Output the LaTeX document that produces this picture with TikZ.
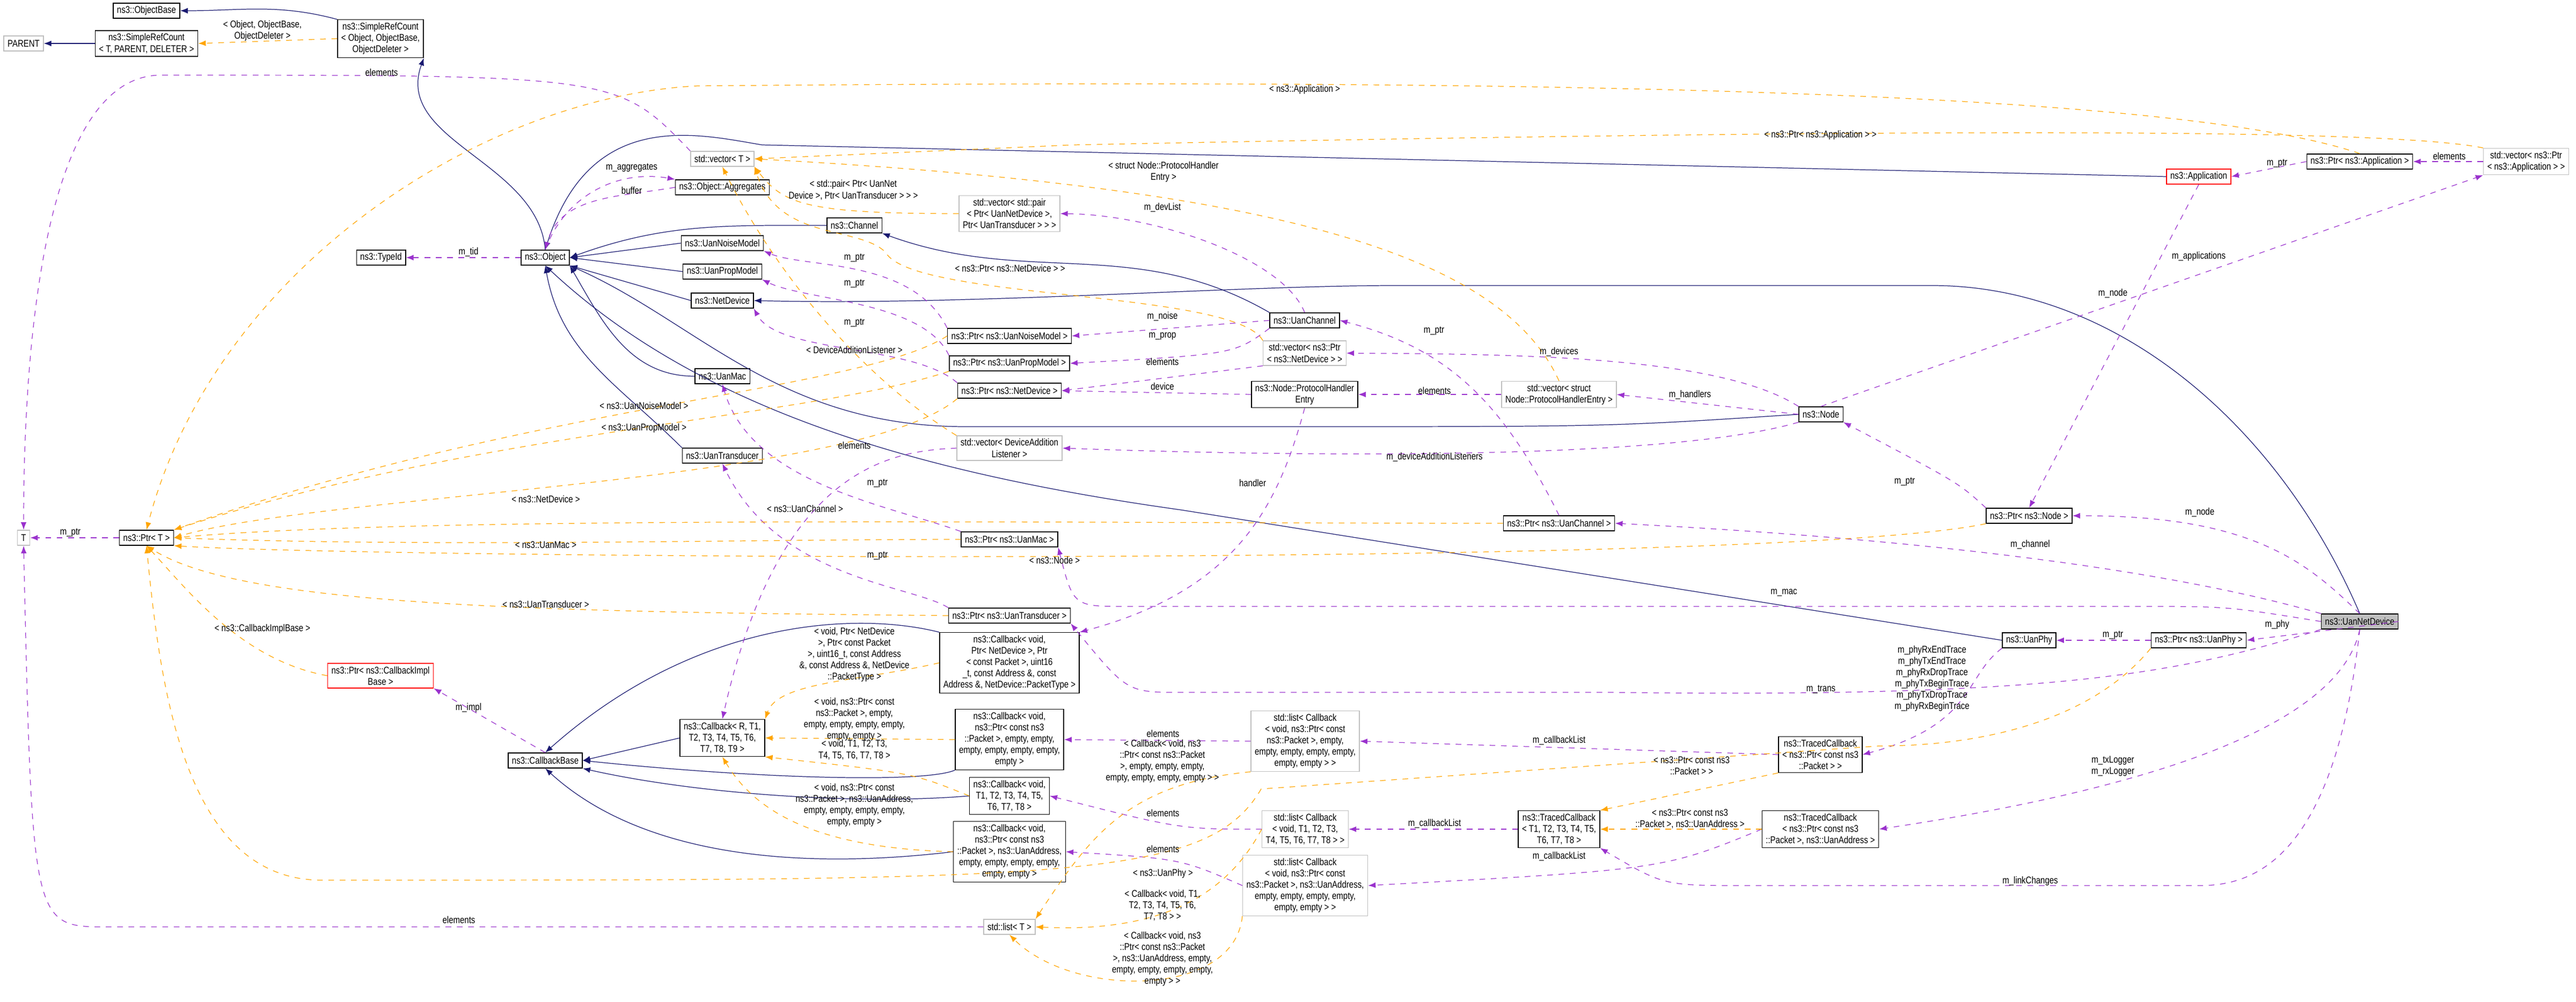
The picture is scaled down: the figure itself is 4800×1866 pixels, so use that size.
\documentclass[tikz,border=0pt]{standalone}
\usepackage{fontspec}
\setmainfont[FakeStretch=0.82]{Liberation Sans}
\usetikzlibrary{arrows.meta}
\definecolor{navy}{HTML}{191970}
\definecolor{purp}{HTML}{9A32CD}
\definecolor{orng}{HTML}{FFA500}
\definecolor{grayb}{HTML}{BFBFBF}
\newcommand{\dfont}{\fontsize{5.2}{6}\selectfont}
\tikzset{cls/.style={draw=black,fill=white,font=\dfont,align=center,inner xsep=2pt,inner ysep=1.6pt,minimum height=8pt,line width=0.4pt}}
\tikzset{ext/.style={cls,draw=grayb}}
\tikzset{redcls/.style={cls,draw=red}}
\tikzset{lbl/.style={font=\dfont,align=center,inner sep=0pt}}
\tikzset{inh/.style={draw=navy,line width=0.35pt,-{Latex[length=4pt,width=3pt]}}}
\tikzset{mem/.style={draw=purp,dashed,line width=0.35pt,-{Latex[length=4pt,width=3pt]}}}
\tikzset{tpl/.style={draw=orng,dashed,line width=0.35pt,-{Latex[length=4pt,width=3pt]}}}

\begin{document}
\begin{tikzpicture}[x=0.01cm,y=-0.01cm]
  \useasboundingbox (0,0) rectangle (4800,1866);
  % classes
  \node[cls] (pbase) at (273,20) {ns3::ObjectBase};
  \node[cls] (srcT) at (273,81) {ns3::SimpleRefCount\\< T, PARENT, DELETER >};
  \node[ext] (parent) at (44,81) {PARENT};
  \node[cls] (srcO) at (709,72) {ns3::SimpleRefCount\\< Object, ObjectBase,\\ ObjectDeleter >};
  \node[cls] (typeid) at (710,480) {ns3::TypeId};
  \node[cls] (object) at (1016,480) {ns3::Object};
  \node[ext] (vecT) at (1346,296) {std::vector< T >};
  \node[cls] (aggr) at (1346,349) {ns3::Object::Aggregates};
  \node[ext] (vecpair) at (1881,398) {std::vector< std::pair\\< Ptr< UanNetDevice >,\\ Ptr< UanTransducer > > >};
  \node[cls] (channel) at (1592,420) {ns3::Channel};
  \node[cls] (noise) at (1346,453) {ns3::UanNoiseModel};
  \node[cls] (prop) at (1346,506) {ns3::UanPropModel};
  \node[cls] (netdev) at (1346,560) {ns3::NetDevice};
  \node[cls] (uanmac) at (1346,701) {ns3::UanMac};
  \node[cls] (transd) at (1346,849) {ns3::UanTransducer};
  \node[cls] (pnoise) at (1881,626) {ns3::Ptr< ns3::UanNoiseModel >};
  \node[cls] (pprop) at (1881,677) {ns3::Ptr< ns3::UanPropModel >};
  \node[cls] (pnetdev) at (1881,728) {ns3::Ptr< ns3::NetDevice >};
  \node[ext] (vecdal) at (1881,835) {std::vector< DeviceAddition\\ Listener >};
  \node[cls] (uanchan) at (2431,597) {ns3::UanChannel};
  \node[ext] (vecpnd) at (2431,658) {std::vector< ns3::Ptr\\< ns3::NetDevice > >};
  \node[cls] (phe) at (2431,735) {ns3::Node::ProtocolHandler\\ Entry};
  \node[ext] (vecphe) at (2905,735) {std::vector< struct\\ Node::ProtocolHandlerEntry >};
  \node[cls] (node) at (3393,772) {ns3::Node};
  \node[cls] (pchan) at (2905,975) {ns3::Ptr< ns3::UanChannel >};
  \node[cls] (pnode) at (3781,961) {ns3::Ptr< ns3::Node >};
  \node[cls] (papp) at (4397,301) {ns3::Ptr< ns3::Application >};
  \node[redcls] (app) at (4097,329) {ns3::Application};
  \node[ext] (vecpapp) at (4707,301) {std::vector< ns3::Ptr\\< ns3::Application > >};
  \node[cls] (pmac) at (1881,1005) {ns3::Ptr< ns3::UanMac >};
  \node[cls] (ptrans) at (1881,1147) {ns3::Ptr< ns3::UanTransducer >};
  \node[ext] (T) at (44,1002) {T};
  \node[cls] (ptrT) at (273,1002) {ns3::Ptr< T >};
  \node[redcls] (pcbimpl) at (709,1259) {ns3::Ptr< ns3::CallbackImpl\\ Base >};
  \node[cls] (cbbase) at (1016,1417) {ns3::CallbackBase};
  \node[cls] (cbR) at (1346,1375) {ns3::Callback< R, T1,\\ T2, T3, T4, T5, T6,\\ T7, T8, T9 >};
  \node[cls] (cbnd) at (1881,1235) {ns3::Callback< void,\\ Ptr< NetDevice >, Ptr\\< const Packet >, uint16\\\_t, const Address \&, const\\ Address \&, NetDevice::PacketType >};
  \node[cls] (cbpk) at (1881,1378) {ns3::Callback< void,\\ ns3::Ptr< const ns3\\::Packet >, empty, empty,\\ empty, empty, empty, empty,\\ empty >};
  \node[cls] (cbT) at (1881,1483) {ns3::Callback< void,\\ T1, T2, T3, T4, T5,\\ T6, T7, T8 >};
  \node[cls] (cbua) at (1881,1587) {ns3::Callback< void,\\ ns3::Ptr< const ns3\\::Packet >, ns3::UanAddress,\\ empty, empty, empty, empty,\\ empty, empty >};
  \node[ext] (listT) at (1881,1727) {std::list< T >};
  \node[ext] (listpk) at (2432,1381) {std::list< Callback\\< void, ns3::Ptr< const\\ ns3::Packet >, empty,\\ empty, empty, empty, empty,\\ empty, empty > >};
  \node[ext] (listT8) at (2432,1545) {std::list< Callback\\< void, T1, T2, T3,\\ T4, T5, T6, T7, T8 > >};
  \node[ext] (listua) at (2432,1650) {std::list< Callback\\< void, ns3::Ptr< const\\ ns3::Packet >, ns3::UanAddress,\\ empty, empty, empty, empty,\\ empty, empty > >};
  \node[cls] (tcpk) at (3392,1406) {ns3::TracedCallback\\< ns3::Ptr< const ns3\\::Packet > >};
  \node[cls] (tcT) at (2905,1545) {ns3::TracedCallback\\< T1, T2, T3, T4, T5,\\ T6, T7, T8 >};
  \node[cls] (tcua) at (3392,1545) {ns3::TracedCallback\\< ns3::Ptr< const ns3\\::Packet >, ns3::UanAddress >};
  \node[cls,fill=grayb] (uannd) at (4397,1158) {ns3::UanNetDevice};
  \node[cls] (uanphy) at (3781,1193) {ns3::UanPhy};
  \node[cls] (pphy) at (4097,1193) {ns3::Ptr< ns3::UanPhy >};

  % inheritance
  \draw[inh] (srcO.north west) to[out=165,in=0] (pbase.east);
  \draw[inh] (srcT) -- (parent);
  \draw[inh] (object.north) to[out=95,in=-110] (srcO.south east);
  \draw[inh] (channel.west) to[out=180,in=20] (object.east);
  \draw[inh] (noise.west) -- (object.east);
  \draw[inh] (prop.west) -- (object.east);
  \draw[inh] (netdev.west) -- (object.south east);
  \draw[inh] (uanmac.west) to[out=180,in=-60] (object.south east);
  \draw[inh] (transd.north west) to[out=135,in=-80] (object.south);
  \draw[inh] (uanchan.north west) to[out=150,in=-20] (channel.south east);
  \draw[inh] (uannd.north) .. controls (4250,800) and (3950,532) .. (3600,532) -- (2600,532) .. controls (2300,532) and (1800,570) .. (netdev.east);
  \draw[inh] (app.west) -- (1420,270) .. controls (1300,250) and (1100,200) .. (object.north);
  \draw[inh] (node.west) .. controls (3000,795) .. (2400,795) -- (1800,795) .. controls (1450,795) and (1300,600) .. (object.south east);
  \draw[inh] (uanphy.west) -- (2200,950) .. controls (1700,880) and (1300,760) .. (object.south);
  \draw[inh] (cbR.west) -- (cbbase.east);
  \draw[inh] (cbnd.north west) .. controls (1600,1140) and (1300,1150) .. (cbbase.north);
  \draw[inh] (cbpk.south west) .. controls (1720,1460) and (1400,1450) .. (cbbase.east);
  \draw[inh] (cbT.west) .. controls (1600,1500) and (1300,1480) .. (cbbase.south east);
  \draw[inh] (cbua.west) .. controls (1500,1620) and (1200,1600) .. (cbbase.south);

  % members
  \draw[mem] (object) -- (typeid);
  \draw[mem] (object.north) to[out=70,in=170] (aggr.north west);
  \draw[mem] (aggr.west) to[out=190,in=75] (object.north);
  \draw[mem] (vecT.north west) .. controls (1150,140) .. (300,140) .. controls (70,140) and (44,700) .. (T.north);
  \draw[mem] (ptrT) -- (T);
  \draw[mem] (pnoise.north west) .. controls (1700,480) and (1500,500) .. (noise.south east);
  \draw[mem] (pprop.north west) .. controls (1720,560) and (1500,560) .. (prop.south east);
  \draw[mem] (pnetdev.north west) .. controls (1700,640) and (1450,660) .. (netdev.south east);
  \draw[mem] (pmac.north west) .. controls (1650,940) and (1400,900) .. (uanmac.south);
  \draw[mem] (ptrans.north west) .. controls (1700,1090) and (1450,1080) .. (transd.south);
  \draw[mem] (uanchan.west) -- (pnoise.east);
  \draw[mem] (uanchan.south west) .. controls (2300,660) .. (pprop.east);
  \draw[mem] (uanchan.north) .. controls (2390,480) and (2150,400) .. (vecpair.east);
  \draw[mem] (vecpnd.south west) -- (pnetdev.east);
  \draw[mem] (phe.west) -- (pnetdev.east);
  \draw[mem] (phe.south) .. controls (2380,950) and (2300,1100) .. (cbnd.north east);
  \draw[mem] (vecphe) -- (phe);
  \draw[mem] (node.west) -- (vecphe.east);
  \draw[mem] (node.north west) .. controls (3200,660) and (2800,660) .. (vecpnd.east);
  \draw[mem] (node.south west) .. controls (3100,860) and (2400,850) .. (vecdal.east);
  \draw[mem] (node.north) -- (vecpapp.south west);
  \draw[mem] (vecdal.west) .. controls (1650,840) and (1450,880) .. (cbR.north);
  \draw[mem] (pchan.north) .. controls (2800,750) and (2700,650) .. (uanchan.east);
  \draw[mem] (pnode.north west) .. controls (3650,900) .. (node.south east);
  \draw[mem] (app.south) -- (pnode.north);
  \draw[mem] (papp.west) -- (app.east);
  \draw[mem] (vecpapp.west) -- (papp.east);
  \draw[mem] (uannd.north) .. controls (4300,1050) and (4200,960) .. (pnode.east);
  \draw[mem] (uannd.north west) .. controls (4000,1050) and (3500,1000) .. (pchan.east);
  \draw[mem] (uannd.west) .. controls (4150,1130) .. (4000,1130) -- (2100,1130) .. controls (2000,1130) .. (pmac.south east);
  \draw[mem] (uannd.east) -- (pphy.east);
  \draw[mem] (uannd.south west) .. controls (4050,1260) and (3800,1300) .. (3000,1290) -- (2200,1290) .. controls (2100,1290) .. (ptrans.south east);
  \draw[mem] (uannd.south) .. controls (4350,1400) and (3800,1500) .. (tcua.east);
  \draw[mem] (uannd.south) .. controls (4350,1600) and (4200,1650) .. (4100,1650) -- (3250,1650) .. controls (3100,1650) .. (tcT.south east);
  \draw[mem] (pphy) -- (uanphy);
  \draw[mem] (uanphy.south west) .. controls (3660,1260) and (3680,1350) .. (tcpk.east);
  \draw[mem] (cbbase.north) -- (pcbimpl.south east);
  \draw[mem] (tcpk.west) -- (listpk.east);
  \draw[mem] (tcT.west) -- (listT8.east);
  \draw[mem] (tcua.west) .. controls (3100,1620) .. (listua.east);
  \draw[mem] (listpk.west) -- (cbpk.east);
  \draw[mem] (listT8.west) .. controls (2200,1545) .. (cbT.east);
  \draw[mem] (listua.west) .. controls (2200,1600) .. (cbua.east);
  \draw[mem] (listT.west) -- (200,1727) .. controls (60,1727) .. (T.south);

  % templates
  \draw[tpl] (srcO.west) -- (srcT.east);
  \draw[tpl] (pnoise.west) .. controls (1600,730) and (1000,750) .. (ptrT.north east);
  \draw[tpl] (pprop.south west) .. controls (1500,780) and (900,800) .. (ptrT.north east);
  \draw[tpl] (pnetdev.south west) .. controls (1600,900) and (600,920) .. (ptrT.east);
  \draw[tpl] (pchan.west) .. controls (2000,975) and (800,960) .. (ptrT.east);
  \draw[tpl] (pmac.west) .. controls (1400,1005) and (800,1020) .. (ptrT.east);
  \draw[tpl] (pnode.south west) .. controls (3300,1060) and (700,1040) .. (ptrT.south east);
  \draw[tpl] (ptrans.west) .. controls (1000,1140) and (450,1130) .. (ptrT.south);
  \draw[tpl] (pcbimpl.west) .. controls (450,1230) and (350,1100) .. (ptrT.south);
  \draw[tpl] (papp.north) .. controls (4000,150) and (2500,150) .. (1300,160) .. controls (900,180) and (400,500) .. (ptrT.north);
  \draw[tpl] (pphy.south west) .. controls (3900,1340) and (3700,1390) .. (3500,1390) -- (2350,1470) .. controls (2250,1640) and (2000,1640) .. (600,1640) .. controls (350,1640) and (300,1300) .. (ptrT.south);
  \draw[tpl] (vecpapp.north west) .. controls (4500,250) and (4000,230) .. (2000,270) -- (vecT.east);
  \draw[tpl] (vecphe.north) .. controls (2800,480) and (2400,350) .. (vecT.east);
  \draw[tpl] (vecpair.west) .. controls (1500,398) and (1460,380) .. (vecT.south east);
  \draw[tpl] (vecpnd.north west) .. controls (2300,540) and (1700,560) .. (1650,470) .. controls (1600,420) and (1450,450) .. (vecT.south east);
  \draw[tpl] (vecdal.north west) .. controls (1600,700) and (1440,500) .. (vecT.south);
  \draw[tpl] (cbnd.west) .. controls (1600,1270) and (1450,1270) .. (cbR.north east);
  \draw[tpl] (cbpk.west) -- (cbR.east);
  \draw[tpl] (cbT.west) .. controls (1700,1440) .. (cbR.south east);
  \draw[tpl] (cbua.west) .. controls (1500,1580) and (1400,1500) .. (cbR.south);
  \draw[tpl] (listpk.south west) .. controls (2100,1460) and (2030,1560) .. (listT.north east);
  \draw[tpl] (listT8.west) .. controls (2300,1640) and (2200,1740) .. (listT.east);
  \draw[tpl] (listua.south west) .. controls (2300,1860) and (2000,1860) .. (listT.south);
  \draw[tpl] (tcpk.south west) -- (tcT.north east);
  \draw[tpl] (tcua.west) -- (tcT.east);

  % labels
  \node[lbl] (l1) at (489,57) {< Object, ObjectBase,\\ ObjectDeleter >};
  \node[lbl] (l2) at (711,135) {elements};
  \node[lbl] (l3) at (873,470) {m\_tid};
  \node[lbl] (l4) at (1177,312) {m\_aggregates};
  \node[lbl] (l5) at (1177,355) {buffer};
  \node[lbl] (l6) at (1590,354) {< std::pair< Ptr< UanNet\\ Device >, Ptr< UanTransducer > > >};
  \node[lbl] (l7) at (2166,387) {m\_devList};
  \node[lbl] (l8) at (2168,320) {< struct Node::ProtocolHandler\\ Entry >};
  \node[lbl] (l9) at (1592,480) {m\_ptr};
  \node[lbl] (l10) at (1592,528) {m\_ptr};
  \node[lbl] (l11) at (1882,500) {< ns3::Ptr< ns3::NetDevice > >};
  \node[lbl] (l12) at (2431,167) {< ns3::Application >};
  \node[lbl] (l13) at (3392,252) {< ns3::Ptr< ns3::Application > >};
  \node[lbl] (l14) at (4564,291) {elements};
  \node[lbl] (l15) at (4243,304) {m\_ptr};
  \node[lbl] (l16) at (4097,478) {m\_applications};
  \node[lbl] (l17) at (3937,547) {m\_node};
  \node[lbl] (l18) at (1592,601) {m\_ptr};
  \node[lbl] (l19) at (1592,652) {< DeviceAdditionListener >};
  \node[lbl] (l20) at (1592,830) {elements};
  \node[lbl] (l21) at (2166,590) {m\_noise};
  \node[lbl] (l22) at (2166,626) {m\_prop};
  \node[lbl] (l23) at (2166,674) {elements};
  \node[lbl] (l24) at (2166,720) {device};
  \node[lbl] (l25) at (2672,616) {m\_ptr};
  \node[lbl] (l26) at (2905,656) {m\_devices};
  \node[lbl] (l27) at (2673,728) {elements};
  \node[lbl] (l28) at (3149,736) {m\_handlers};
  \node[lbl] (l29) at (2673,852) {m\_deviceAdditionListeners};
  \node[lbl] (l30) at (2334,900) {handler};
  \node[lbl] (l31) at (1635,900) {m\_ptr};
  \node[lbl] (l32) at (1635,1035) {m\_ptr};
  \node[lbl] (l33) at (3549,897) {m\_ptr};
  \node[lbl] (l34) at (131,992) {m\_ptr};
  \node[lbl] (l35) at (1200,756) {< ns3::UanNoiseModel >};
  \node[lbl] (l36) at (1200,798) {< ns3::UanPropModel >};
  \node[lbl] (l37) at (1017,930) {< ns3::NetDevice >};
  \node[lbl] (l38) at (1500,948) {< ns3::UanChannel >};
  \node[lbl] (l39) at (1017,1015) {< ns3::UanMac >};
  \node[lbl] (l40) at (1965,1044) {< ns3::Node >};
  \node[lbl] (l41) at (1017,1126) {< ns3::UanTransducer >};
  \node[lbl] (l42) at (489,1172) {< ns3::CallbackImplBase >};
  \node[lbl] (l43) at (873,1319) {m\_impl};
  \node[lbl] (l44) at (1592,1220) {< void, Ptr< NetDevice\\ >, Ptr< const Packet\\ >, uint16\_t, const Address\\ \&, const Address \&, NetDevice\\ ::PacketType >};
  \node[lbl] (l45) at (1592,1340) {< void, ns3::Ptr< const\\ ns3::Packet >, empty,\\ empty, empty, empty, empty,\\ empty, empty >};
  \node[lbl] (l46) at (1592,1397) {< void, T1, T2, T3,\\ T4, T5, T6, T7, T8 >};
  \node[lbl] (l47) at (1592,1500) {< void, ns3::Ptr< const\\ ns3::Packet >, ns3::UanAddress,\\ empty, empty, empty, empty,\\ empty, empty >};
  \node[lbl] (l48) at (2167,1367) {elements};
  \node[lbl] (l49) at (2166,1418) {< Callback< void, ns3\\ ::Ptr< const ns3::Packet\\ >, empty, empty, empty,\\ empty, empty, empty, empty > >};
  \node[lbl] (l50) at (2167,1515) {elements};
  \node[lbl] (l51) at (2167,1582) {elements};
  \node[lbl] (l52) at (2167,1628) {< ns3::UanPhy >};
  \node[lbl] (l53) at (2166,1687) {< Callback< void, T1,\\ T2, T3, T4, T5, T6,\\ T7, T8 > >};
  \node[lbl] (l54) at (2166,1787) {< Callback< void, ns3\\ ::Ptr< const ns3::Packet\\ >, ns3::UanAddress, empty,\\ empty, empty, empty, empty,\\ empty > >};
  \node[lbl] (l55) at (855,1714) {elements};
  \node[lbl] (l56) at (3393,1284) {m\_trans};
  \node[lbl] (l57) at (3324,1104) {m\_mac};
  \node[lbl] (l58) at (2905,1380) {m\_callbackList};
  \node[lbl] (l59) at (3152,1427) {< ns3::Ptr< const ns3\\ ::Packet > >};
  \node[lbl] (l60) at (2673,1535) {m\_callbackList};
  \node[lbl] (l61) at (3149,1526) {< ns3::Ptr< const ns3\\ ::Packet >, ns3::UanAddress >};
  \node[lbl] (l62) at (2905,1596) {m\_callbackList};
  \node[lbl] (l63) at (4099,955) {m\_node};
  \node[lbl] (l64) at (3783,1015) {m\_channel};
  \node[lbl] (l65) at (4243,1164) {m\_phy};
  \node[lbl] (l66) at (3937,1183) {m\_ptr};
  \node[lbl] (l67) at (3600,1264) {m\_phyRxEndTrace\\ m\_phyTxEndTrace\\ m\_phyRxDropTrace\\ m\_phyTxBeginTrace\\ m\_phyTxDropTrace\\ m\_phyRxBeginTrace};
  \node[lbl] (l68) at (3937,1428) {m\_txLogger\\ m\_rxLogger};
  \node[lbl] (l69) at (3783,1642) {m\_linkChanges};
\end{tikzpicture}
\end{document}
